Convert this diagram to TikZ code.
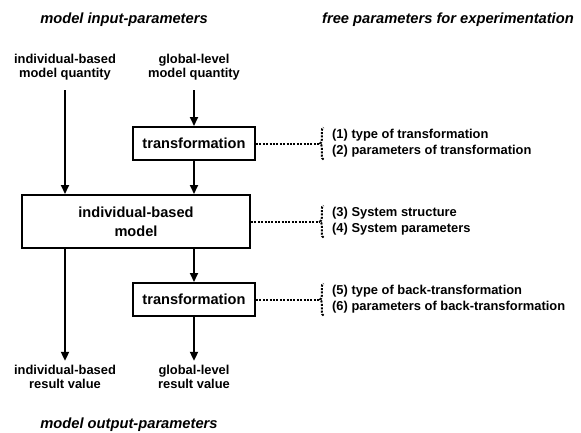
\documentclass[tikz,border=0pt]{standalone}
\usepackage{fontspec}
\setmainfont{Liberation Sans}
\usetikzlibrary{arrows.meta,calc,decorations.pathreplacing}
\tikzset{
  box/.style={draw, line width=2pt, align=center, inner sep=0pt,
    font=\fontsize{14.6}{19}\selectfont\bfseries},
  lbl/.style={align=center, inner sep=0pt, font=\fontsize{12.9}{14.5}\selectfont\bfseries},
  head/.style={inner sep=0pt, font=\fontsize{14.7}{17}\selectfont\bfseries\itshape},
  item/.style={anchor=west, inner sep=0pt, font=\fontsize{12.9}{15}\selectfont\bfseries},
  flow/.style={line width=2pt, -{Triangle[length=9pt,width=8pt]}},
  dots/.style={line width=2pt, dash pattern=on 2pt off 1.4pt}
}
% dotted link from a box to its bracket of free parameters
\newcommand{\paramlist}[3]{
  \coordinate (#1) at (320,0 |- #2.east);
  \draw[dots] (#2.east) -- (#1);
  \draw[dots, decorate, decoration={brace, amplitude=3.5pt}]
    ($(#1)+(3.5,16)$) -- ($(#1)+(3.5,-16)$);
  \foreach[count=\i] \t in {#3} {
    \node[item] (#1-\i) at ($(#1)+(12,-8+\i*16-16)$) {\t};
  }
}

\begin{document}
\begin{tikzpicture}[x=1pt,y=-1pt]
  \useasboundingbox (0,0) rectangle (581,432);
  \node[head] (inhead) at (124,20) {model input-parameters};
  \node[head] (freehead) at (448,20) {free parameters for experimentation};
  \node[lbl] (indin) at (65,67) {individual-based\\model quantity};
  \node[lbl] (globin) at (194,67) {global-level\\model quantity};
  \node[box, minimum width=122, minimum height=33] (trans) at (194,143.5) {transformation};
  \node[box, minimum width=228, minimum height=53] (ibm) at (136,221.5) {individual-based\\model};
  \node[box, minimum width=122, minimum height=33] (backtrans) at (194,299.5) {transformation};
  \node[lbl] (indout) at (65,377) {individual-based\\result value};
  \node[lbl] (globout) at (194,377) {global-level\\result value};
  \node[head] (outhead) at (129,425) {model output-parameters};

  \draw[flow, shorten <=10pt] (indin) -- (indin |- ibm.north);
  \draw[flow, shorten <=10pt] (globin) -- (trans);
  \draw[flow] (trans) -- (trans |- ibm.north);
  \draw[flow, shorten >=4pt] (ibm.south -| indout) -- (indout);
  \draw[flow] (ibm.south -| backtrans) -- (backtrans);
  \draw[flow, shorten >=4pt] (backtrans) -- (globout);

  \paramlist{p1}{trans}{{(1) type of transformation},{(2) parameters of transformation}}
  \paramlist{p2}{ibm}{{(3) System structure},{(4) System parameters}}
  \paramlist{p3}{backtrans}{{(5) type of back-transformation},{(6) parameters of back-transformation}}
\end{tikzpicture}
\end{document}
